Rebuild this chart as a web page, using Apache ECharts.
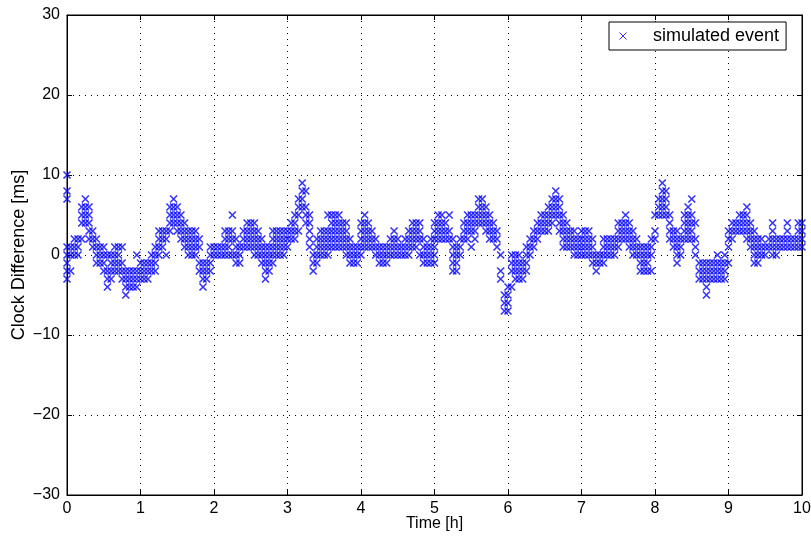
<!DOCTYPE html>
<html>
<head>
<meta charset="utf-8">
<script src="https://cdn.jsdelivr.net/npm/echarts@6/dist/echarts.min.js"></script>
<style>
	html, body { margin: 0; padding: 0; background: #fff; }
	#chart { width: 811px; height: 540px; }
</style>
</head>
<body>
<div id="chart"></div>
<script>
// clock difference readings [ms], one row per time step: [time h, values...]
const part0 = [
	[0.00, 10, 8, 7, 1, 0, -1, -2, -3], [0.05, 1, 0, -2], [0.10, 2, 1, 0], [0.15, 2, 1, 0],
	[0.20, 6, 5, 4, 2], [0.25, 7, 6, 5, 4], [0.30, 6, 5, 4, 3, 2], [0.35, 3, 2, 1],
	[0.40, 2, 1, 0, -1], [0.45, 1, 0, -1], [0.50, 1, 0, -1, -2], [0.55, 0, -2, -3, -4],
	[0.60, 0, -1, -2, -3], [0.65, 1, 0, -1, -2], [0.70, 1, 0, -1, -2], [0.75, 1, -1, -2, -3],
	[0.80, -2, -3, -4, -5], [0.85, -2, -3, -4], [0.90, -2, -3, -4], [0.95, 0, -2, -3, -4],
	[1.00, -1, -2, -3], [1.05, -1, -2, -3], [1.10, -1, -2, -3], [1.15, 0, -1, -2],
	[1.20, 1, 0, -1, -2], [1.25, 3, 2, 1, 0], [1.30, 3, 2, 1], [1.35, 3, 2, 0],
	[1.40, 6, 5, 4, 3], [1.45, 7, 6, 5, 4], [1.50, 6, 5, 4, 3], [1.55, 5, 4, 3, 2],
	[1.60, 4, 3, 2, 1], [1.65, 3, 2, 1, 0]
]
const part1 = [
	[1.70, 3, 2, 1, 0], [1.75, 3, 2, 1, 0], [1.80, 2, 1, -1, -2], [1.85, -1, -2, -3, -4],
	[1.90, -1, -2, -3], [1.95, 1, 0, -1, -2], [2.00, 1, 0], [2.05, 1, 0], [2.10, 1, 0],
	[2.15, 3, 2, 1, 0], [2.20, 3, 2, 1, 0], [2.25, 5, 3, 2, 0], [2.30, 2, 1, 0, -1],
	[2.35, 1, 0, -1], [2.40, 3, 2, 1], [2.45, 4, 3, 2, 1], [2.50, 4, 3, 2, 1],
	[2.55, 4, 3, 2, 1, 0], [2.60, 3, 2, 1, 0], [2.65, 2, 1, 0, -1], [2.70, 1, 0, -1, -2, -3],
	[2.75, 1, 0, -1, -2], [2.80, 3, 2, 1, 0, -1], [2.85, 3, 2, 1, 0], [2.90, 3, 2, 1, 0],
	[2.95, 3, 2, 1, 0], [3.00, 3, 2, 1], [3.05, 4, 3, 2], [3.10, 5, 4, 3, 2],
	[3.15, 7, 6, 5, 3], [3.20, 9, 8, 7, 6], [3.25, 8, 6, 5, 4], [3.30, 5, 4, 3, 2, 1],
	[3.35, 0, -1, -2]
]
const part2 = [
	[3.40, 2, 1, 0, -1], [3.45, 3, 2, 1, 0], [3.50, 3, 2, 1, 0], [3.55, 5, 3, 2, 1, 0],
	[3.60, 5, 4, 3, 2, 1], [3.65, 5, 4, 3, 2, 1], [3.70, 5, 4, 3, 2, 1], [3.75, 4, 3, 2, 1],
	[3.80, 4, 3, 2, 1, 0], [3.85, 2, 1, 0, -1], [3.90, 1, 0, -1], [3.95, 1, 0, -1],
	[4.00, 4, 3, 2, 1, 0], [4.05, 5, 4, 3, 2, 1], [4.10, 4, 3, 2, 1], [4.15, 3, 2, 1],
	[4.20, 2, 1, 0], [4.25, 1, 0, -1], [4.30, 1, 0, -1], [4.35, 1, 0, -1], [4.40, 2, 1, 0],
	[4.45, 3, 2, 1, 0], [4.50, 2, 1, 0], [4.55, 1, 0], [4.60, 2, 1, 0], [4.65, 3, 2, 1, 0],
	[4.70, 4, 3, 2, 1], [4.75, 4, 3, 2, 1], [4.80, 4, 3, 2, 0], [4.85, 2, 1, 0, -1],
	[4.90, 1, 0, -1], [4.95, 2, 1, 0, -1]
]
const part3 = [
	[5.00, 4, 3, 2, 1, 0, -1], [5.05, 5, 4, 3, 2], [5.10, 5, 4, 3, 2], [5.15, 4, 3, 2],
	[5.20, 5, 3, 2], [5.25, 2, 1, 0, -1, -2], [5.30, 1, 0, -1, -2], [5.35, 2, 1, 0],
	[5.40, 4, 3, 2], [5.45, 5, 4, 3, 2], [5.50, 5, 4, 3, 1], [5.55, 5, 4, 3, 2],
	[5.60, 7, 6, 5, 4], [5.65, 7, 6, 5, 4], [5.70, 6, 5, 4, 3], [5.75, 5, 4, 3, 2],
	[5.80, 4, 3, 2], [5.85, 3, 2, 1], [5.90, 0, -2, -3], [5.95, -5, -6, -7],
	[6.00, -4, -5, -6, -7], [6.05, 0, -1, -2, -4], [6.10, 0, -1, -2, -3], [6.15, 0, -1, -2, -3],
	[6.20, -1, -2, -3], [6.25, 1, 0, -1, -2], [6.30, 2, 1, 0], [6.35, 3, 2, 1],
	[6.40, 4, 3, 2], [6.45, 5, 4, 3], [6.50, 5, 4, 3], [6.55, 6, 5, 4, 3],
	[6.60, 7, 6, 5, 4], [6.65, 8, 7, 6, 5]
]
const part4 = [
	[6.70, 7, 6, 5, 4, 3], [6.75, 5, 4, 3, 2, 1], [6.80, 4, 3, 2, 1], [6.85, 3, 2, 1],
	[6.90, 3, 2, 1, 0], [6.95, 2, 1, 0], [7.00, 3, 2, 1, 0], [7.05, 3, 2, 1, 0],
	[7.10, 3, 2, 1, 0], [7.15, 2, 1, 0, -1], [7.20, 0, -1, -2], [7.25, 0, -1],
	[7.30, 2, 1, 0, -1], [7.35, 2, 1, 0], [7.40, 2, 1, 0], [7.45, 2, 1, 0],
	[7.50, 4, 3, 2, 1], [7.55, 4, 3, 2], [7.60, 5, 4, 3, 2], [7.65, 4, 3, 2, 1],
	[7.70, 3, 2, 1, 0], [7.75, 2, 1, 0], [7.80, 1, 0, -1, -2], [7.85, 1, 0, -1, -2],
	[7.90, 1, 0, -1, -2], [7.95, 2, 1, 0, -2], [8.00, 5, 3, 2], [8.05, 7, 6, 5],
	[8.10, 9, 8, 7, 6, 5], [8.15, 8, 7, 6, 5], [8.20, 5, 4, 3, 2], [8.25, 3, 2, 1],
	[8.30, 3, 2, 1, 0, -1], [8.35, 2, 1, 0]
]
const part5 = [
	[8.40, 5, 4, 3, 2], [8.45, 6, 5, 4, 3, 2], [8.50, 7, 5, 4, 3, 2], [8.55, 4, 2, 1, 0],
	[8.60, -1, -2, -3], [8.65, -1, -2, -3], [8.70, -1, -2, -3, -4, -5], [8.75, -1, -2, -3],
	[8.80, -1, -2, -3], [8.85, 0, -1, -2, -3], [8.90, -1, -2, -3], [8.95, 0, -1, -2, -3],
	[9.00, 3, 2, 1, -1], [9.05, 4, 3, 2], [9.10, 4, 3], [9.15, 5, 4, 3], [9.20, 5, 4, 3],
	[9.25, 6, 5, 4, 3, 2], [9.30, 4, 3, 2, 1], [9.35, 3, 2, 1, 0, -1], [9.40, 2, 1, 0, -1],
	[9.45, 2, 1, 0], [9.50, 1, 0], [9.55, 2, 1], [9.60, 4, 3, 2, 1, 0], [9.65, 2, 1, 0],
	[9.70, 2, 1], [9.75, 2, 1], [9.80, 4, 3, 2, 1], [9.85, 2, 1], [9.90, 2, 1],
	[9.95, 4, 3, 2, 1], [10.00, 4, 3, 2, 1]
]

const xTicks = [0, 10, 1]
const yTicks = [-30, 30, 10]
const seriesName = 'simulated event'
const crossPath = 'path://M0,0L10,10M10,0L0,10'

function buildPoints() {
	const points = []
	const rows = [...part0, ...part1, ...part2, ...part3, ...part4, ...part5]
	rows.forEach(row => {
		for (let i = 1; i < row.length; i++) {
			points.push([row[0], row[i]])
		}
	})
	return points
}

const font = 'Liberation Sans, Arial, Helvetica, sans-serif'
const dotted = { show: true, lineStyle: { color: '#000', type: [1, 5], width: 1 } }
const blackLine = { show: true, onZero: false, lineStyle: { color: '#000' } }
const inTick = { show: true, inside: true, length: 5, lineStyle: { color: '#000' } }

const chart = echarts.init(document.getElementById('chart'), null, { renderer: 'canvas' })

chart.setOption({
	animation: false,
	backgroundColor: '#fff',
	grid: {
		left: 67, right: 9, top: 15, bottom: 45,
		outerBoundsMode: 'none', containLabel: false,
		show: true, borderColor: '#000', borderWidth: 1
	},
	legend: {
		data: [{ name: seriesName, icon: crossPath, itemStyle: { borderWidth: 1 } }],
		left: 609, top: 22,
		itemWidth: 50, itemHeight: 7,
		padding: [5, 7, 5, 8],
		backgroundColor: '#fff',
		borderColor: '#000', borderWidth: 1, borderRadius: 0,
		textStyle: { fontFamily: font, fontSize: 18, color: '#000', lineHeight: 16 }
	},
	xAxis: [
		{
			type: 'value', min: xTicks[0], max: xTicks[1], interval: xTicks[2],
			name: 'Time [h]', nameLocation: 'middle', nameGap: 21, nameMoveOverlap: false,
			nameTextStyle: { fontFamily: font, fontSize: 16, color: '#000' },
			axisLine: blackLine, axisTick: inTick,
			axisLabel: { fontFamily: font, fontSize: 16, color: '#000', margin: 6 },
			splitLine: dotted
		},
		{
			type: 'value', position: 'top', min: xTicks[0], max: xTicks[1], interval: xTicks[2],
			axisLine: blackLine, axisTick: inTick,
			axisLabel: { show: false }, splitLine: { show: false }
		}
	],
	yAxis: [
		{
			type: 'value', min: yTicks[0], max: yTicks[1], interval: yTicks[2],
			name: 'Clock Difference [ms]', nameLocation: 'middle', nameGap: 39, nameRotate: 90,
			nameMoveOverlap: false,
			nameTextStyle: { fontFamily: font, fontSize: 18, color: '#000' },
			axisLine: blackLine, axisTick: inTick,
			axisLabel: {
				fontFamily: font, fontSize: 16, color: '#000', margin: 7,
				formatter: v => String(v).replace('-', '\u2212')
			},
			splitLine: dotted
		},
		{
			type: 'value', position: 'right', min: yTicks[0], max: yTicks[1], interval: yTicks[2],
			axisLine: blackLine, axisTick: inTick,
			axisLabel: { show: false }, splitLine: { show: false }
		}
	],
	series: [
		{
			name: seriesName,
			type: 'scatter',
			symbol: crossPath,
			symbolSize: 7,
			itemStyle: { color: 'none', borderColor: '#0000ff', borderWidth: 1.6 },
			data: buildPoints()
		}
	]
})
</script>
</body>
</html>
